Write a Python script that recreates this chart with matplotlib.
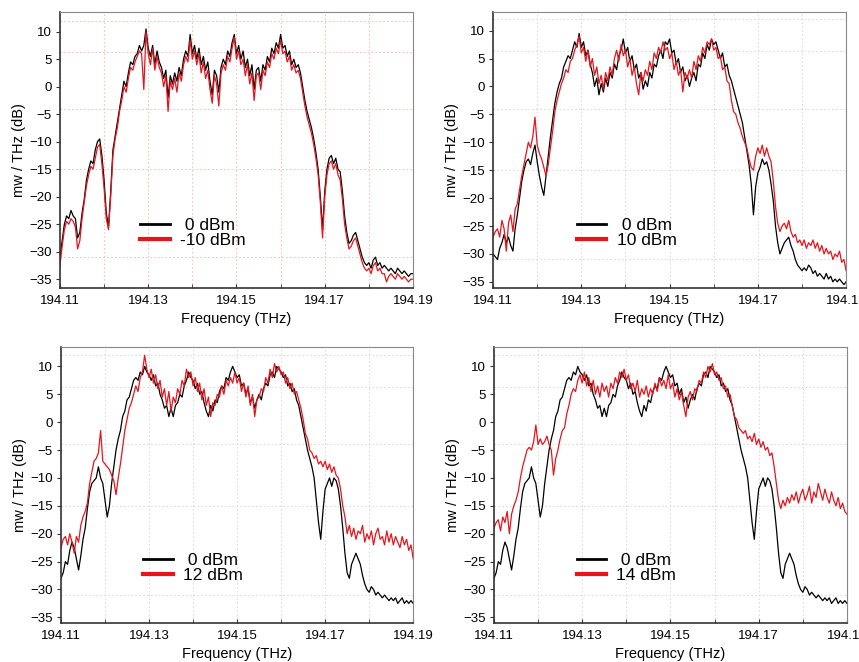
import numpy as np
import matplotlib
matplotlib.use("Agg")
import matplotlib.pyplot as plt

plt.rcParams['font.family'] = ['Liberation Sans', 'DejaVu Sans']

# frequency grid (THz), 161 samples from 194.11 to 194.19
freq = np.linspace(194.11, 194.19, 161)

# panel 1 : 0 dBm / -10 dBm
b1 = [-31, -28, -25, -23.5, -24, -22.5, -23.5, -24, -27.5, -26.5,
      -23, -20.5, -17, -15, -13.5, -14, -11.5, -10, -9.5, -12.5,
      -17, -23, -25.5, -19, -11.5, -9, -6.5, -4, -1.5, 1,
      0, 2.5, 4.5, 4, 5.5, 6, 7.5, 6.5, 7.5, 10.5,
      7, 5.5, 7.5, 4, 6.5, 4.5, 3.5, 1.5, 3, -2,
      2, 0.5, 2.5, 1, 3.5, 2, 5, 6.5, 5.5, 9.5,
      6, 7.5, 5, 7, 4, 5.5, 3, 4.5, 1, -1.5,
      3, 2, -1, 3.5, 5, 4, 6.5, 5.5, 8, 9.5,
      6, 7.5, 5, 6.5, 3.5, 5, 2, 4, -0.5, 3,
      3.5, 1, 4, 3, 5.5, 4.5, 7, 6, 8, 7,
      9.5, 7, 7.5, 5.5, 6.5, 4, 5, 3.5, 4, 2.5,
      0, -2.5, -4.5, -6, -7.5, -9.5, -12, -15, -20, -26,
      -19, -15, -13, -12.5, -14, -13, -15, -15.5, -19, -23.5,
      -26.5, -28.5, -28, -27, -26.5, -28, -29.5, -31, -32, -32.5,
      -32, -33, -31.5, -31, -32.5, -32, -33, -32.5, -33, -33.5,
      -33, -33.5, -34, -33, -33.5, -34, -33.5, -34, -34.5, -34,
      -34]
r1 = [-32.5, -29, -26, -24.5, -25, -24, -24.5, -25.5, -29.5, -28,
      -24, -21, -18, -16, -14.5, -15, -13, -11, -10.5, -14,
      -18.5, -24, -26, -20, -12.5, -9.5, -7.5, -4.5, -2.5, 0,
      -1, 1.5, 3.5, 3, 4.5, 5.5, 6.5, 6, -0.5, 10,
      6, 4, 7, 3, 5.5, 3.5, 2.5, 0, 2, -4.5,
      1, -0.5, 1.5, -1, 2.5, 1, 4, 5.5, 4.5, 8.5,
      5, 6.5, 4, 6, 2.5, 4.5, 1.5, 3, -0.5, -3,
      2, 0.5, -3.5, 2.5, 4, 3, 5.5, 4.5, 7, 9,
      5, 6.5, 4, 5, 2, 4, 0.5, 2.5, -2.5, 2,
      2.5, -0.5, 3, 2, 4.5, 3.5, 6, 5, 7, 6,
      8.5, 6, 6.5, 4.5, 5.5, 3, 4, 2.5, 3, 1.5,
      -1, -3.5, -5.5, -7, -8.5, -10.5, -13, -16, -21, -27.5,
      -20, -16, -14, -13.5, -15, -14, -16, -17, -20.5, -25,
      -27.5, -29.5, -29, -28, -27.5, -29, -30.5, -32, -33, -33.5,
      -33, -34, -32.5, -32, -33.5, -33, -34, -34, -35.5, -34.5,
      -34, -34.5, -35, -34, -34.5, -35, -34.5, -35, -35.5, -35,
      -35]

# panel 2 : 0 dBm / 10 dBm
b2 = [-30, -30.5, -31, -29, -28, -26.5, -28, -27, -28.5, -29.5,
      -25.5, -23, -20, -17, -15, -13.5, -13, -14, -12, -10.5,
      -13.5, -16, -18, -19.5, -16, -12.5, -9, -6, -3, -1,
      0.5, 1.5, 3.5, 4.5, 5.5, 5, 6.5, 8, 7, 9.5,
      7, 8, 5.5, 6.5, 4, 2.5, 0, 1.5, -1.5, 0.5,
      -1, 1.5, 0, 2.5, 1.5, 4, 3, 5.5, 6.5, 8.5,
      6, 7, 4.5, 5.5, 3, 4, 1.5, 2.5, -0.5, 1,
      0, 2.5, 1.5, 4, 3.5, 5.5, 6.5, 5, 8, 7.5,
      8.5, 6, 6.5, 4, 5, 2.5, 3.5, 1, 2, 0,
      1.5, 2.5, 1, 4, 3.5, 6, 5, 7.5, 6.5, 8.5,
      7.5, 8, 6.5, 5, 6, 3.5, 4, 2, 1, -0.5,
      -2, -3.5, -5, -6.5, -9, -11.5, -14, -17.5, -23, -18,
      -15.5, -14.5, -13, -14, -13.5, -15, -17.5, -20.5, -25, -28,
      -30, -29, -28, -27.5, -27, -28.5, -29.5, -31, -32, -32.5,
      -33, -32.5, -33, -32, -32.5, -33.5, -33, -34, -33.5, -34,
      -34.5, -33.5, -34.5, -34, -35, -34.5, -35, -34.5, -35, -35.5,
      -35]
r2 = [-27, -26, -25.5, -27, -24, -25.5, -29.5, -24.5, -23, -26,
      -22, -21, -18.5, -16, -14, -12, -10, -11, -9, -5.5,
      -10.5, -12, -13, -14.5, -16, -14, -11, -8, -4.5, -2.5,
      -1, 0.5, 1.5, 3, 2.5, 4.5, 5, 6.5, 7.5, 9,
      6, 7, 4.5, 6.5, 3.5, 5, 2, 3.5, 0.5, 2,
      -0.5, 2.5, 1, 3.5, 2, 5, 6.5, 4.5, 7.5, 5.5,
      6.5, 3.5, 5, 2, 3.5, 0.5, -1.5, 2.5, 1, 3,
      2, 4.5, 3, 6, 5, 7, 6, 8, 6.5, 7,
      5, 6, 3, 4.5, 2, 3, -1, 2.5, 1.5, 3,
      1.5, 4.5, 3, 5.5, 4.5, 7, 6, 8, 7.5, 8.5,
      6.5, 7, 5, 5.5, 3, 3.5, 1, 0.5, -2.5, -4.5,
      -5, -6.5, -7.5, -9, -10, -11, -13, -14.5, -15, -12.5,
      -11, -12, -10.5, -12.5, -11, -12.5, -13.5, -17, -21.5, -24.5,
      -26, -25, -24.5, -25.5, -24, -26, -27, -26.5, -28, -27.5,
      -28.5, -27.5, -29, -28, -28.5, -27.5, -29, -28, -29.5, -28.5,
      -30, -29, -30, -29.5, -31, -30, -30.5, -29.5, -31.5, -31,
      -33]

# panels 3 and 4 share the 0 dBm trace
b34 = [-28, -27, -25, -25.5, -23, -21.5, -22.5, -24.5, -26.5, -24,
       -21, -19, -15.5, -12.5, -11, -10.5, -10, -8, -10, -11,
       -14, -17, -15, -11, -8, -5, -3, -1.5, 1, 2,
       4, 4.5, 6, 7.5, 8, 7.5, 9, 8.5, 10, 9,
       8.5, 7.5, 8.5, 6.5, 7, 5, 4, 2.5, 3, 1,
       2.5, 1, 3, 3.5, 5, 4.5, 6.5, 7.5, 9, 8,
       7.5, 6, 7, 5, 5.5, 3.5, 2, 1, 3, 2,
       4, 3.5, 5.5, 6.5, 6, 8, 7.5, 9, 10, 9,
       8, 8.5, 6.5, 7, 5, 6, 3.5, 4.5, 2.5, 4,
       5, 4, 6, 7, 6.5, 8.5, 9, 8, 10, 9.5,
       9, 8, 8.5, 6.5, 7, 5.5, 6, 4, 3, 1,
       -1, -3, -5, -6.5, -8, -10, -14, -18, -21, -16,
       -12, -11, -10, -11.5, -10, -10.5, -12, -15, -19, -23.5,
       -27, -28, -25.5, -24.5, -23.5, -24.5, -25.5, -27.5, -29, -30,
       -30.5, -29.5, -30, -31, -30.5, -31, -31.5, -31, -31.5, -32,
       -31.5, -32, -31.5, -32.5, -32, -31.5, -32.5, -32, -32.5, -32,
       -32.5]
r3 = [-22.5, -21, -20.5, -22, -20, -21.5, -23.5, -20.5, -21.5, -18.5,
      -17, -16, -14.5, -11, -9, -7, -6.5, -5.5, -1.5, -7,
      -7.5, -8, -8.5, -9.5, -10.5, -13, -10, -7.5, -4.5, -1.5,
      0.5, 2.5, 3.5, 5, 6.5, 5.5, 8, 9, 12, 9.5,
      8, 9.5, 7, 8.5, 6, 7.5, 4.5, 6, 3, 5.5,
      2, 4.5, 3.5, 6, 5, 7.5, 6.5, 9.5, 8, 9,
      6.5, 8, 5.5, 7, 4, 6, 3, 4.5, 1, 3.5,
      3, 5, 4.5, 6.5, 5, 7.5, 6.5, 8, 7, 9,
      7, 8, 5.5, 7, 4.5, 6.5, 3, 5, 1, 4,
      4.5, 6, 5.5, 8, 7, 9.5, 8, 10.5, 9, 10,
      8.5, 9, 7, 8, 6, 7, 5, 5.5, 4, 2.5,
      0.5, -2, -3, -5, -5.5, -6.5, -6, -7.5, -7, -8,
      -7, -8.5, -7.5, -9, -8, -9.5, -10, -12, -15, -17,
      -20, -18.5, -20.5, -19, -21, -19.5, -20, -18.5, -21.5, -20,
      -21, -19.5, -22, -20, -19, -21, -20.5, -22, -19.5, -21.5,
      -20, -22, -20.5, -21.5, -22.5, -20.5, -22, -21, -23, -22,
      -24.5]
r4 = [-19, -18, -17.5, -19.5, -17, -18, -16, -20, -16.5, -15,
      -14, -12.5, -10, -8, -6.5, -5, -4.5, -5, -3.5, -0.5,
      -4, -3, -4, -3.5, -2.5, -4, -5, -9.5, -6.5, -5,
      -3, -1.5, -1, 1.5, 3, 5, 6, 5.5, 7.5, 8.5,
      7, 9, 6.5, 8, 5.5, 7.5, 5, 6.5, 4.5, 7,
      5.5, 6.5, 4.5, 7, 6, 8, 7, 9, 8, 9.5,
      7.5, 8.5, 6, 7, 5.5, 7.5, 4.5, 6, 5, 6.5,
      4.5, 6, 5, 7, 5.5, 8, 6.5, 7.5, 6, 8.5,
      6, 7, 4.5, 6, 4, 5.5, 3, 1, 4.5, 5.5,
      4, 6, 5.5, 7.5, 7, 9, 8, 10, 9, 10.5,
      8.5, 9, 7.5, 8, 6, 6.5, 4.5, 5, 3, 1,
      0.5, -1, -1.5, -2, -1.5, -3, -2.5, -3.5, -2, -4,
      -3, -4.5, -3.5, -5, -4.5, -6, -5.5, -8, -11, -14,
      -15.5, -14, -15, -13.5, -14.5, -13, -14, -12.5, -14.5, -13,
      -12, -14, -13, -11.5, -14.5, -12.5, -13.5, -11, -12.5, -14,
      -12, -13.5, -14.5, -12.5, -14, -15, -13.5, -15.5, -14.5, -16,
      -16.5]

black_series = [b1, b2, b34, b34]
red_series = [r1, r2, r3, r4]
red_labels = ["-10 dBm", "10 dBm", "12 dBm", "14 dBm"]

xtick_major = [194.11, 194.13, 194.15, 194.17, 194.19]
xtick_labels = ["194.11", "194.13", "194.15", "194.17", "194.19"]
xtick_minor = [194.12, 194.14, 194.16, 194.18]
yticks = [-35, -30, -25, -20, -15, -10, -5, 0, 5, 10]

# axes rectangles (fig fraction) and y ranges
rects = [[0.0698, 0.565, 0.411, 0.417],
         [0.574, 0.565, 0.411, 0.417],
         [0.071, 0.059, 0.410, 0.417],
         [0.575, 0.059, 0.411, 0.417]]
ylims = [(-36.6, 13.6), (-36.1, 13.35), (-36.0, 13.5), (-36.0, 13.5)]
legend_x = [0.227, 0.237, 0.234, 0.234]
grid_cols = ['#f2c4c4', '#dcdcdc', '#dcdcdc', '#dcdcdc']

fig = plt.figure(figsize=(8.59, 6.62), dpi=100)

for i in range(4):
    ax = fig.add_axes(rects[i])
    for xv in xtick_major + xtick_minor:
        ax.axvline(xv, color=grid_cols[i], ls=(0, (1.5, 2)), lw=0.8, zorder=0)
    for yv in [12, 6.3, -4, -15, -31]:
        ax.axhline(yv, color=grid_cols[i], ls=(0, (1.5, 2)), lw=0.8, zorder=0)
    ax.plot(freq, black_series[i], color='black', lw=0.9, label=' 0 dBm')
    ax.plot(freq, red_series[i], color='#e8141c', lw=0.9, label=red_labels[i])
    ax.set_xlim(194.11, 194.19)
    ax.set_ylim(*ylims[i])
    ax.set_xticks(xtick_major)
    ax.set_xticklabels(xtick_labels)
    ax.set_xticks(xtick_minor, minor=True)
    ax.set_yticks(yticks)
    ax.tick_params(axis='x', which='both', direction='in', length=3,
                   labelsize=9.5, pad=5, colors='#333333', labelcolor='black')
    ax.tick_params(axis='y', direction='out', length=3, labelsize=9.5,
                   pad=3, colors='#333333', labelcolor='black')
    for side in ['top', 'right']:
        ax.spines[side].set_color('#888888')
    for side in ['left', 'bottom']:
        ax.spines[side].set_color('#333333')
        ax.spines[side].set_linewidth(1.2)
    ax.set_xlabel('Frequency (THz)', fontsize=10.5, labelpad=4)
    ax.set_ylabel('mw / THz (dB)', fontsize=10.5, labelpad=2)
    leg = ax.legend(loc='lower left', bbox_to_anchor=(legend_x[i], 0.145),
                    frameon=False, fontsize=12.5, handlelength=1.7,
                    handletextpad=0.6, labelspacing=0.0, borderpad=0,
                    borderaxespad=0)
    lines = leg.get_lines()
    lines[0].set_linewidth(2.0)
    lines[1].set_linewidth(3.0)

fig.savefig('out.png', dpi=100)
